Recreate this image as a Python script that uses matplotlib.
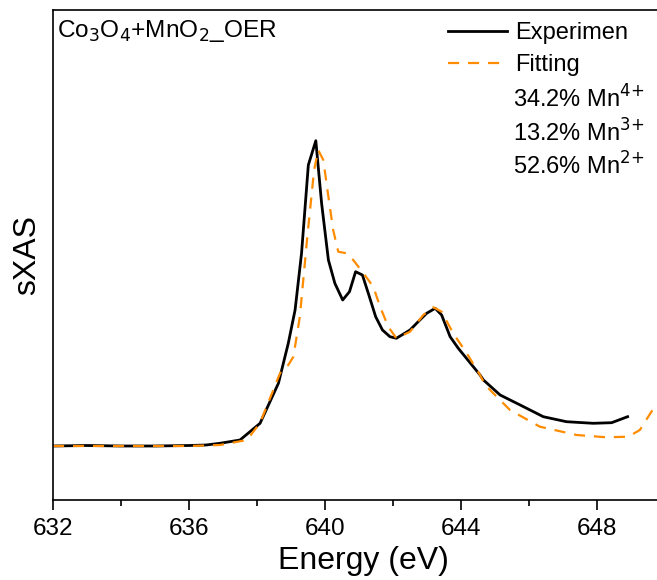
import matplotlib
matplotlib.use("Agg")
import matplotlib.pyplot as plt
from matplotlib.ticker import MultipleLocator

plt.rcParams['font.family'] = ['Liberation Sans', 'DejaVu Sans']

# Mn L3-edge sXAS, experiment vs. linear-combination fit
exp_e = [632.0, 633.0, 634.0, 635.0, 636.0, 636.5, 636.91, 637.5, 638.09, 638.63,
         638.92, 639.12, 639.31, 639.51, 639.73, 639.9, 640.1, 640.29, 640.52,
         640.72, 640.9, 641.1, 641.29, 641.49, 641.69, 641.91, 642.1, 642.5,
         642.79, 642.99, 643.24, 643.43, 643.68, 643.92, 644.56, 644.66, 645.15,
         645.74, 646.42, 647.1, 647.89, 648.43, 648.9]
exp_i = [0.54, 0.545, 0.54, 0.54, 0.545, 0.55, 0.567, 0.60, 0.767, 1.167,
         1.567, 1.90, 2.467, 3.35, 3.593, 2.967, 2.40, 2.167, 2.00,
         2.083, 2.283, 2.25, 2.05, 1.833, 1.70, 1.633, 1.617, 1.70,
         1.80, 1.867, 1.917, 1.85, 1.633, 1.517, 1.25, 1.20, 1.05,
         0.95, 0.833, 0.783, 0.767, 0.773, 0.833]

fit_e = [632.0, 633.0, 634.0, 635.0, 636.0, 636.5, 636.91, 637.7, 638.09, 638.68,
         638.92, 639.07, 639.26, 639.48, 639.68, 639.8, 639.95, 640.1, 640.24,
         640.39, 640.64, 640.83, 641.13, 641.42, 641.62, 641.86, 642.1, 642.5,
         642.89, 643.19, 643.43, 643.77, 644.17, 644.56, 644.71, 645.44, 646.32,
         647.4, 648.28, 648.92, 649.26, 649.6, 649.8]
fit_i = [0.54, 0.54, 0.54, 0.54, 0.54, 0.545, 0.55, 0.60, 0.77, 1.27,
         1.35, 1.433, 1.833, 2.633, 3.30, 3.50, 3.40, 3.033, 2.70,
         2.483, 2.467, 2.40, 2.267, 2.133, 1.933, 1.733, 1.617, 1.683,
         1.85, 1.927, 1.883, 1.667, 1.467, 1.25, 1.15, 0.90, 0.733,
         0.65, 0.627, 0.633, 0.70, 0.883, 0.97]

labels = ["34.2% Mn$^{4{+}}$", "13.2% Mn$^{3{+}}$", "52.6% Mn$^{2{+}}$"]

fig = plt.figure(figsize=(6.57, 5.8), dpi=100)
ax = fig.add_axes([53 / 657, 80 / 580, 620 / 657, 490 / 580])

ax.plot(exp_e, exp_i, color='black', lw=2, label='Experimen')
ax.plot(fit_e, fit_i, color='#ff8c00', lw=1.6, ls=(0, (5, 4)), label='Fitting')

ax.set_xlim(632, 632 + 620 / 34)
ax.set_ylim(0, 4.9)
ax.xaxis.set_major_locator(MultipleLocator(4))
ax.xaxis.set_minor_locator(MultipleLocator(2))
ax.tick_params(axis='x', which='major', length=7, width=1.2, labelsize=17.5, pad=6)
ax.tick_params(axis='x', which='minor', length=4, width=1.2)
ax.tick_params(axis='y', left=False, labelleft=False)
ax.spines['right'].set_visible(False)
for s in ['left', 'bottom', 'top']:
    ax.spines[s].set_linewidth(1.2)

ax.set_xlabel('Energy (eV)', fontsize=23, labelpad=4)
ax.set_ylabel('sXAS', fontsize=23, labelpad=8)

ax.text(4 / 620, 1 - 8 / 490, 'Co$_3$O$_4$+MnO$_2$_OER', transform=ax.transAxes,
        fontsize=17.6, va='top', ha='left')

leg = ax.legend(loc='upper left', bbox_to_anchor=((448 - 53) / 620, 1 - 12 / 490),
                frameon=False, fontsize=17, handlelength=2.5, handletextpad=0.35,
                labelspacing=0.42, borderpad=0, borderaxespad=0)

for k, t in enumerate(labels):
    ax.text((513 - 53) / 620, 1 - (89 + 33.5 * k) / 490, t, transform=ax.transAxes,
            fontsize=17, va='center', ha='left')

fig.savefig('out.png', dpi=100)
